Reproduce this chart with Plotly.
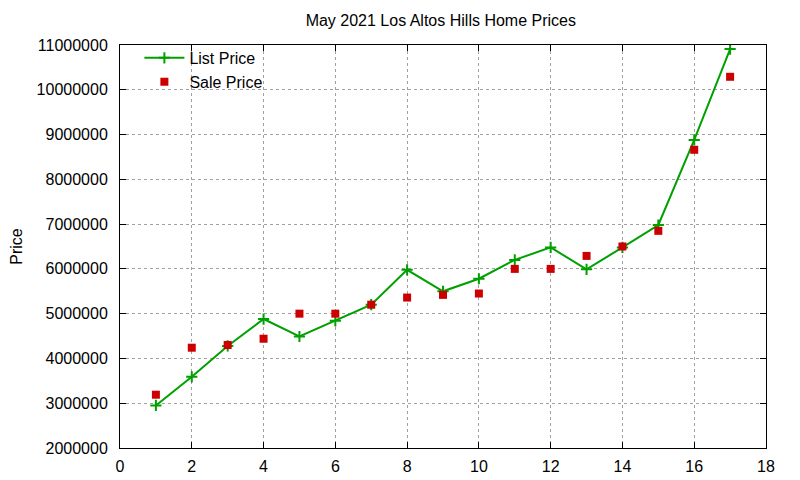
import plotly.graph_objects as go

# listing number (1..17) and prices
listing = [1, 2, 3, 4, 5, 6, 7, 8, 9, 10, 11, 12, 13, 14, 15, 16, 17]
list_price = [2950000, 3590000, 4280000, 4880000, 4490000, 4840000, 5200000, 5980000,
              5500000, 5780000, 6200000, 6480000, 5990000, 6480000, 6980000, 8880000, 10910000]
sale_price = [3190000, 4240000, 4300000, 4440000, 5000000, 5000000, 5200000, 5360000,
              5420000, 5450000, 6000000, 6000000, 6290000, 6500000, 6850000, 8660000, 10290000]

GREEN = "#00a000"
RED = "#cc0000"
FONT = "Liberation Sans, Arial, sans-serif"

fig = go.Figure()

fig.add_trace(go.Scatter(
    x=listing, y=list_price,
    name="List Price",
    mode="lines+markers",
    line=dict(color=GREEN, width=2),
    marker=dict(symbol="cross-thin", size=8, line=dict(color=GREEN, width=2))
))

fig.add_trace(go.Scatter(
    x=listing, y=sale_price,
    name="Sale Price",
    mode="markers",
    marker=dict(symbol="square", size=8, color=RED)
))

axis_common = dict(
    showline=True, linecolor="black", linewidth=1, mirror="allticks",
    ticks="inside", ticklen=6, tickcolor="black",
    showgrid=True, gridcolor="#a0a0a0", griddash="dot", gridwidth=1,
    zeroline=False,
    tickfont=dict(family=FONT, size=16, color="black"),
)

fig.update_xaxes(range=[0, 18], dtick=2, tick0=0, ticklabelstandoff=4, **axis_common)
fig.update_yaxes(range=[2000000, 11000000], dtick=1000000, tick0=0, tickformat="d",
                 ticklabelstandoff=8,
                 title=dict(text="Price", font=dict(family=FONT, size=16, color="black"), standoff=25),
                 **axis_common)

# the page body adds ~8px of offset, so the margins are trimmed by that much
fig.update_layout(
    width=800, height=480,
    margin=dict(l=112, r=42, t=37, b=40, autoexpand=False),
    paper_bgcolor="white", plot_bgcolor="white",
    title=dict(text="May 2021 Los Altos Hills Home Prices",
               font=dict(family=FONT, size=16, color="black"),
               x=0.541, xanchor="center", y=0.975, yanchor="middle"),
    font=dict(family=FONT, size=16, color="black"),
    legend=dict(x=0.03, y=1.01, xanchor="left", yanchor="top",
                bgcolor="rgba(0,0,0,0)", font=dict(family=FONT, size=16),
                tracegroupgap=0, itemwidth=40),
    showlegend=True,
)

fig.write_html("out.html")
